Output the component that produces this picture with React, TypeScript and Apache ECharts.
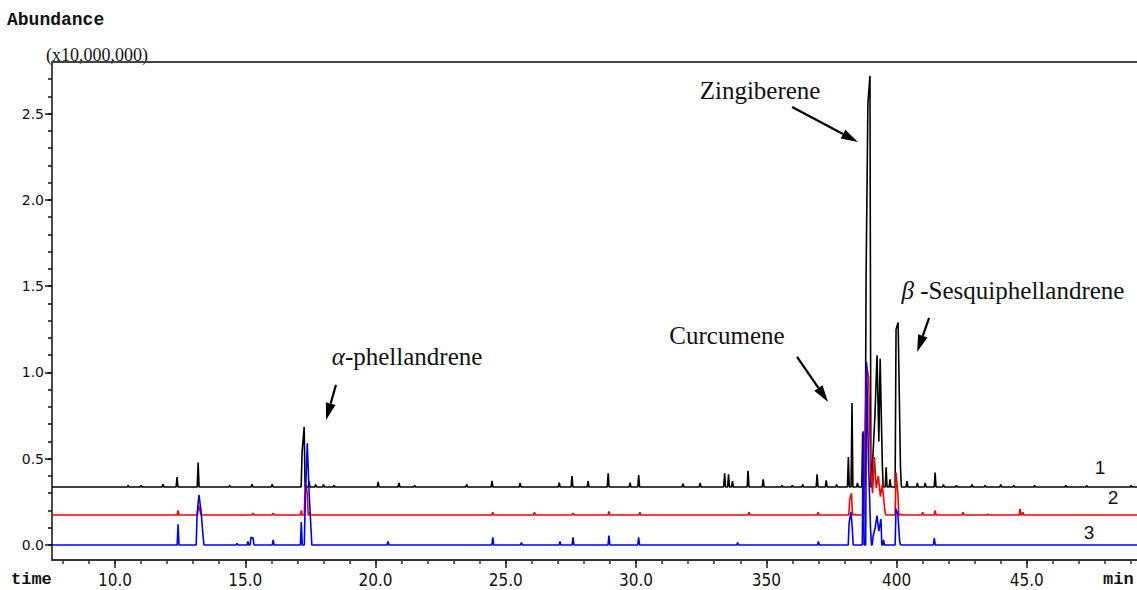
import React, { useEffect, useRef } from "react";
import * as echarts from "echarts";

// ---- axis ranges & ticks ----
const X_MIN = 7.58;
const X_MAX = 49.23;
const Y_MIN = -0.087;
const Y_MAX = 2.8;
const X_MAJOR_TICKS = [10, 15, 20, 25, 30, 35, 40, 45];
const X_TICK_LABELS = ["10.0", "15.0", "20.0", "25.0", "30.0", "350", "400", "45.0"];
const X_MINOR_TICKS = [8, 9, 10, 11, 12, 13, 14, 15, 16, 17, 18, 19, 20, 21, 22, 23, 24, 25, 26, 27, 28, 29, 30, 31, 32, 33, 34, 35, 36, 37, 38, 39, 40, 41, 42, 43, 44, 45, 46, 47, 48, 49];
const Y_MAJOR_TICKS = [0, 0.5, 1, 1.5, 2, 2.5];
const Y_TICK_LABELS = ["0.0", "0.5", "1.0", "1.5", "2.0", "2.5"];
const Y_MINOR_TICKS = [0, 0.1, 0.2, 0.3, 0.4, 0.5, 0.6, 0.7, 0.8, 0.9, 1.0, 1.1, 1.2, 1.3, 1.4, 1.5, 1.6, 1.7, 1.8, 1.9, 2.0, 2.1, 2.2, 2.3, 2.4, 2.5, 2.6, 2.7];

// ---- traces (abundance x10,000,000, offset as drawn) ----
const TRACE_NAMES = ["1", "2", "3"];
const TRACE_COLORS = ["#000000", "#ff0000", "#0000ff"];
const BASE_1 = 0.336;
const BASE_2 = 0.174;
const BASE_3 = 0.0;

const PEAKS_1: [number, number][] = [
  [10.5, 0.345], [11.0, 0.345], [11.84, 0.352], [12.38, 0.394], [13.19, 0.478],
  [14.4, 0.345], [15.26, 0.352], [16.03, 0.352], [17.18, 0.54], [17.26, 0.684],
  [17.45, 0.37], [17.7, 0.35], [18.0, 0.35], [18.4, 0.345], [20.1, 0.366],
  [20.9, 0.36], [21.5, 0.345], [23.5, 0.35], [24.47, 0.372], [25.55, 0.36],
  [27.05, 0.362], [27.54, 0.4], [28.16, 0.37], [28.93, 0.415], [29.77, 0.362],
  [30.1, 0.405], [31.8, 0.355], [32.46, 0.36], [33.4, 0.415], [33.55, 0.41],
  [33.7, 0.37], [34.3, 0.43], [34.88, 0.38], [35.6, 0.345], [36.0, 0.345],
  [36.4, 0.35], [36.95, 0.41], [37.3, 0.375], [37.7, 0.35], [38.15, 0.51],
  [38.29, 0.823], [38.5, 0.36], [38.7, 0.65], [38.83, 1.55], [38.9, 2.56],
  [38.98, 2.72], [39.08, 0.48], [39.17, 0.75], [39.25, 1.1], [39.32, 0.6],
  [39.37, 1.08], [39.45, 0.49], [39.6, 0.45], [39.75, 0.38], [39.98, 1.25],
  [40.06, 1.29], [40.15, 0.45], [40.4, 0.37], [40.8, 0.36], [41.1, 0.36],
  [41.48, 0.42], [41.8, 0.35], [42.3, 0.345], [42.9, 0.35], [43.4, 0.345],
  [44.0, 0.35], [44.5, 0.345], [45.3, 0.345], [46.5, 0.345], [47.3, 0.345], [49.0, 0.345],
];

const PEAKS_2: [number, number][] = [
  [12.42, 0.2], [13.2, 0.23], [13.26, 0.2], [15.3, 0.185], [16.07, 0.185],
  [17.15, 0.2], [17.3, 0.365], [17.38, 0.3], [17.48, 0.19], [24.5, 0.19],
  [26.1, 0.19], [27.58, 0.185], [28.96, 0.195], [30.15, 0.19], [34.34, 0.19],
  [36.99, 0.19], [38.2, 0.26], [38.27, 0.3], [38.4, 0.18], [38.78, 0.6],
  [38.85, 1.04], [38.93, 0.97], [39.0, 0.45], [39.08, 0.3], [39.15, 0.51],
  [39.22, 0.33], [39.3, 0.4], [39.38, 0.28], [39.45, 0.35], [39.55, 0.2],
  [39.98, 0.42], [40.05, 0.3], [40.15, 0.18], [41.0, 0.19], [41.48, 0.2],
  [42.55, 0.19], [43.5, 0.18], [44.74, 0.21], [44.85, 0.19],
];

const PEAKS_3: [number, number][] = [
  [12.42, 0.12], [13.15, 0.18], [13.22, 0.29], [13.3, 0.2], [13.38, 0.05],
  [14.68, 0.01], [15.1, 0.02], [15.22, 0.045], [15.3, 0.04], [16.07, 0.03],
  [17.15, 0.133], [17.3, 0.25], [17.38, 0.59], [17.45, 0.3], [17.52, 0.1],
  [20.48, 0.02], [24.5, 0.045], [25.6, 0.015], [27.08, 0.02], [27.58, 0.045],
  [28.96, 0.055], [30.1, 0.045], [33.9, 0.015], [37.0, 0.02], [38.18, 0.13],
  [38.25, 0.19], [38.3, 0.1], [38.72, 0.66], [38.85, 1.06], [38.92, 0.5],
  [39.0, 0.1], [39.1, 0.05], [39.18, 0.1], [39.25, 0.17], [39.32, 0.08],
  [39.4, 0.15], [39.5, 0.03], [39.98, 0.21], [40.05, 0.18], [40.12, 0.02],
  [41.45, 0.04],
];

// ---- annotations (data coordinates) ----
const ANNOT_TEXTS = ["Zingiberene", "Curcumene", "{g|α}-phellandrene", "{g|β} -Sesquiphellandrene"];
const ANNOT_TEXT_POS: [number, number][] = [[34.76, 2.632], [33.49, 1.217], [21.21, 1.09], [44.47, 1.478]];
const ARROW_FROM: [number, number][] = [[35.99, 2.539], [36.18, 1.09], [18.48, 0.928], [41.25, 1.316]];
const ARROW_TO: [number, number][] = [[38.52, 2.336], [37.37, 0.829], [18.1, 0.725], [40.79, 1.119]];
const TRACE_LABEL_POS: [number, number][] = [[47.81, 0.452], [48.31, 0.278], [47.39, 0.07]];

const SERIF = '"Liberation Serif", "Times New Roman", serif';
const MONO = '"Liberation Mono", "DejaVu Sans Mono", monospace';
const NARROW = '"Liberation Sans Narrow", "DejaVu Sans Condensed", sans-serif';
const ANNOT_SIZE = 25;

function buildTrace(base: number, peaks: [number, number][]) {
  const hw = 0.035;
  const pts: [number, number][] = [[X_MIN, base]];
  for (let i = 0; i < peaks.length; i++) {
    const [t, v] = peaks[i];
    const prev = peaks[i - 1];
    const next = peaks[i + 1];
    if (!prev || t - prev[0] >= 0.1) pts.push([t - hw, base]);
    pts.push([t, v]);
    if (!next || next[0] - t >= 0.1) pts.push([t + hw, base]);
  }
  pts.push([X_MAX, base]);
  return pts;
}

export default function App() {
  const ref = useRef<HTMLDivElement>(null);
  useEffect(() => {
    if (!ref.current) return;
    const chart = echarts.init(ref.current, null, { renderer: "svg" });
    const bases = [BASE_1, BASE_2, BASE_3];
    const peaks = [PEAKS_1, PEAKS_2, PEAKS_3];
    const xCommon: any = { type: "value", min: X_MIN, max: X_MAX, gridIndex: 0, splitLine: { show: false } };
    const yCommon: any = { type: "value", min: Y_MIN, max: Y_MAX, gridIndex: 0, splitLine: { show: false } };
    chart.setOption({
      animation: false,
      backgroundColor: "#ffffff",
      grid: { left: 52, right: 0, top: 62, bottom: 30, containLabel: false, outerBoundsMode: "none" },
      xAxis: [
        {
          ...xCommon,
          position: "bottom",
          axisLine: { show: true, onZero: false, lineStyle: { color: "#333", width: 2 } },
          axisTick: { show: true, customValues: X_MINOR_TICKS, length: 4, lineStyle: { color: "#333", width: 1.5 } },
          axisLabel: { show: false },
        },
        {
          ...xCommon,
          position: "bottom",
          axisLine: { show: false, onZero: false },
          axisTick: { show: true, customValues: X_MAJOR_TICKS, length: 8, lineStyle: { color: "#222", width: 1.5 } },
          axisLabel: {
            show: true,
            customValues: X_MAJOR_TICKS,
            margin: 12,
            fontFamily: NARROW,
            fontSize: 17,
            lineHeight: 16,
            color: "#111",
            formatter: (v: number) => {
              const i = X_MAJOR_TICKS.findIndex((m) => Math.abs(m - v) < 1e-6);
              return i >= 0 ? X_TICK_LABELS[i] : "";
            },
          },
        },
        {
          ...xCommon,
          position: "top",
          axisLine: { show: true, onZero: false, lineStyle: { color: "#444", width: 2 } },
          axisTick: { show: false },
          axisLabel: { show: false },
        },
      ],
      yAxis: [
        {
          ...yCommon,
          position: "left",
          axisLine: { show: true, onZero: false, lineStyle: { color: "#111", width: 1.5 } },
          axisTick: { show: true, customValues: Y_MINOR_TICKS, length: 4, lineStyle: { color: "#111", width: 1.5 } },
          axisLabel: { show: false },
        },
        {
          ...yCommon,
          position: "left",
          axisLine: { show: false, onZero: false },
          axisTick: { show: true, customValues: Y_MAJOR_TICKS, length: 7, lineStyle: { color: "#111", width: 1.5 } },
          axisLabel: {
            show: true,
            customValues: Y_MAJOR_TICKS,
            margin: 8,
            fontFamily: '"DejaVu Sans", sans-serif',
            fontSize: 14,
            color: "#111",
            formatter: (v: number) => {
              const i = Y_MAJOR_TICKS.findIndex((m) => Math.abs(m - v) < 1e-6);
              return i >= 0 ? Y_TICK_LABELS[i] : "";
            },
          },
        },
      ],
      series: TRACE_NAMES.map((name, i) => ({
        name,
        type: "line",
        xAxisIndex: 0,
        yAxisIndex: 0,
        data: buildTrace(bases[i], peaks[i]),
        symbol: "none",
        silent: true,
        lineStyle: { color: TRACE_COLORS[i], width: 1.6 },
        z: 2 + i,
      })),
    });

    const toPx = (p: [number, number]) =>
      chart.convertToPixel({ xAxisIndex: 0, yAxisIndex: 0 } as any, p) as number[];

    const graphics: any[] = [
      { type: "text", x: 7, y: 11, style: { text: "Abundance", font: `bold 18px ${MONO}`, fill: "#111" } },
      { type: "text", x: 46, y: 46, style: { text: "(x10,000,000)", font: `18px ${SERIF}`, fill: "#111" } },
      { type: "text", x: 11, y: 571, style: { text: "time", font: `bold 17px ${MONO}`, fill: "#111" } },
      { type: "text", x: 1103, y: 571, style: { text: "min", font: `bold 17px ${MONO}`, fill: "#111" } },
    ];

    ANNOT_TEXTS.forEach((txt, i) => {
      const [x, y] = toPx(ANNOT_TEXT_POS[i]);
      graphics.push({
        type: "text",
        x,
        y,
        style: {
          text: txt,
          font: `${ANNOT_SIZE}px ${SERIF}`,
          fill: "#111",
          textAlign: "center",
          textVerticalAlign: "middle",
          rich: { g: { fontStyle: "italic", fontFamily: SERIF, fontSize: ANNOT_SIZE } },
        },
      });
      const [x1, y1] = toPx(ARROW_FROM[i]);
      const [x2, y2] = toPx(ARROW_TO[i]);
      const dx = x2 - x1;
      const dy = y2 - y1;
      const len = Math.sqrt(dx * dx + dy * dy);
      const ux = dx / len;
      const uy = dy / len;
      const headLen = 17;
      const headHalf = 5;
      const bx = x2 - ux * headLen;
      const by = y2 - uy * headLen;
      graphics.push({
        type: "line",
        shape: { x1, y1, x2: bx, y2: by },
        style: { stroke: "#000", lineWidth: 2.2 },
      });
      graphics.push({
        type: "polygon",
        shape: {
          points: [
            [x2, y2],
            [bx - uy * headHalf, by + ux * headHalf],
            [bx + uy * headHalf, by - ux * headHalf],
          ],
        },
        style: { fill: "#000" },
      });
    });

    TRACE_NAMES.forEach((name, i) => {
      const [x, y] = toPx(TRACE_LABEL_POS[i]);
      graphics.push({
        type: "text",
        x,
        y,
        style: {
          text: name,
          font: `19px "Liberation Sans", sans-serif`,
          fill: "#111",
          textAlign: "center",
          textVerticalAlign: "middle",
        },
      });
    });

    chart.setOption({ graphic: graphics });
    return () => chart.dispose();
  }, []);

  return (
    <div
      ref={ref}
      style={{ position: "fixed", left: 0, top: 0, width: 1137, height: 590, background: "#fff" }}
    />
  );
}
